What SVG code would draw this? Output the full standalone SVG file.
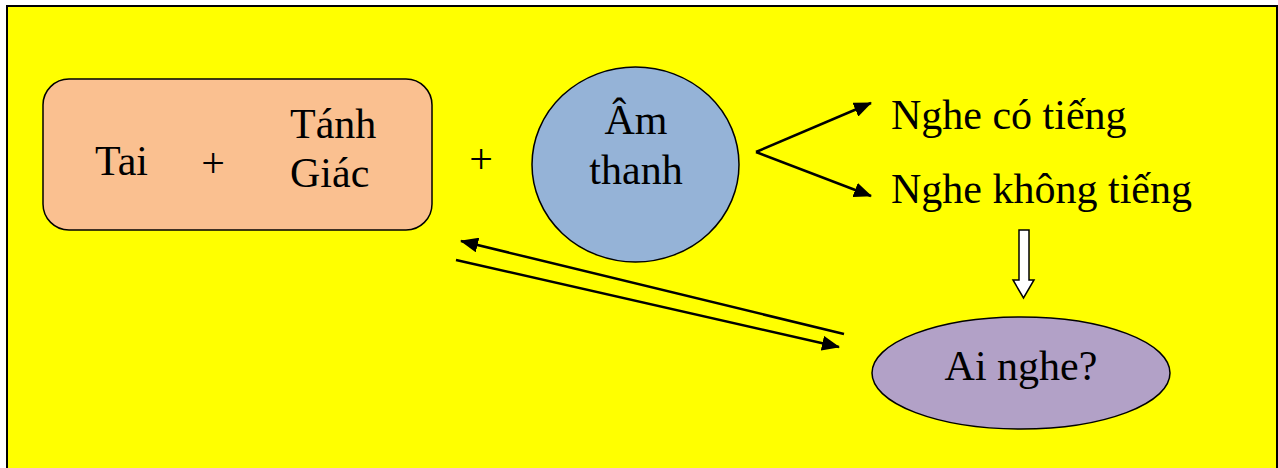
<svg xmlns="http://www.w3.org/2000/svg" width="1278" height="468" viewBox="0 0 1278 468">
<style>
text{font-family:"Liberation Serif","Times New Roman",serif;font-size:42px;fill:#000}
.c{text-anchor:middle}
.ln{stroke:#000;stroke-width:2.5;fill:none}
.sh{stroke:#000;stroke-width:1.5}
</style>
<defs>
<marker id="ah" markerUnits="userSpaceOnUse" markerWidth="18" markerHeight="15" refX="17" refY="7.5" orient="auto">
<path d="M0,0 L18,7.5 L0,15 Z" fill="#000"/>
</marker>
</defs>
<rect x="0" y="0" width="1278" height="468" fill="#fff"/>
<rect x="7" y="6" width="1270" height="470" fill="#ffff00" stroke="#000" stroke-width="2"/>
<g id="ear-nature">
<rect x="43" y="79" width="389" height="151" rx="26" fill="#fac090" class="sh"/>
<text x="95" y="175">Tai</text>
<text x="213" y="177" class="c">+</text>
<text x="290" y="138">Tánh</text>
<text x="290" y="187">Giác</text>
</g>
<g id="plus2">
<text x="481" y="173" class="c">+</text>
</g>
<g id="sound">
<ellipse cx="635.5" cy="164.5" rx="103.5" ry="97.5" fill="#95b3d7" class="sh"/>
<text x="636" y="134" class="c">Âm</text>
<text x="636" y="184" class="c">thanh</text>
</g>
<g id="hear-sound">
<text x="891" y="129">Nghe có tiếng</text>
</g>
<g id="hear-silence">
<text x="891" y="203">Nghe không tiếng</text>
</g>
<g id="who-hears">
<ellipse cx="1021" cy="373" rx="149" ry="56" fill="#b2a1c7" class="sh"/>
<text x="1021" y="380" class="c">Ai nghe?</text>
</g>
<g id="connectors">
<path class="ln" d="M756,152 L871,103" marker-end="url(#ah)"/>
<path class="ln" d="M756,152 L871,196" marker-end="url(#ah)"/>
<path class="ln" d="M844,334 L461,241" marker-end="url(#ah)"/>
<path class="ln" d="M456,260 L839,347" marker-end="url(#ah)"/>
<path d="M1019,230 L1029,230 L1029,280 L1034,280 L1023.5,298 L1013,280 L1019,280 Z" fill="#fff" stroke="#000" stroke-width="1.5"/>
</g>
</svg>
